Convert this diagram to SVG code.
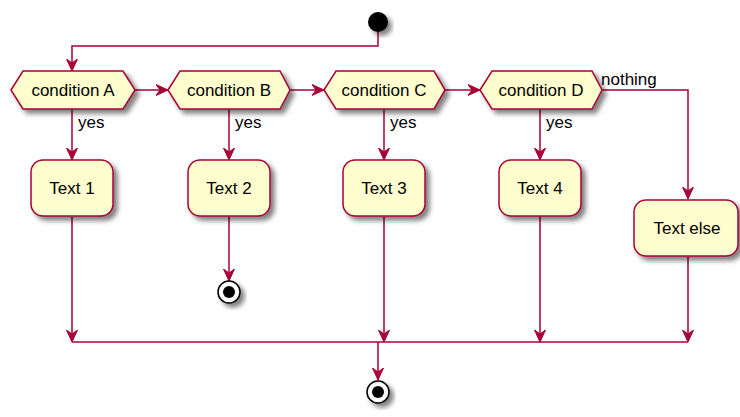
<svg xmlns="http://www.w3.org/2000/svg" width="740" height="417" viewBox="0 0 740 417">
<style>
.n{fill:#FEFECE;stroke:#A80036;stroke-width:1.5;filter:url(#sh)}
.t{font-family:"Liberation Sans",Arial,sans-serif;font-size:17px;fill:#000}
.c{text-anchor:middle}
.e{stroke:#A80036;stroke-width:1.5;fill:none}
</style>
<defs>
<filter id="sh" x="-20%" y="-20%" width="150%" height="150%">
<feGaussianBlur in="SourceAlpha" stdDeviation="2.5"/>
<feOffset dx="4" dy="4" result="b"/>
<feComponentTransfer><feFuncA type="linear" slope="0.5"/></feComponentTransfer>
<feMerge><feMergeNode/><feMergeNode in="SourceGraphic"/></feMerge>
</filter>
<marker id="ar" markerWidth="13" markerHeight="13" viewBox="0 0 13 13" refX="12" refY="6.5" orient="auto" markerUnits="userSpaceOnUse">
<polygon points="0,1 12,6.5 0,12 4,6.5" fill="#A80036" stroke="#A80036" stroke-width="1"/>
</marker>
</defs>
<g id="connectors">
<polyline class="e" points="378,32 378,46 72,46 72,71" marker-end="url(#ar)"/>
<line class="e" x1="135" y1="90" x2="168" y2="90" marker-end="url(#ar)"/>
<line class="e" x1="290" y1="90" x2="324" y2="90" marker-end="url(#ar)"/>
<line class="e" x1="445" y1="90" x2="480" y2="90" marker-end="url(#ar)"/>
<polyline class="e" points="602,90 688,90 688,199" marker-end="url(#ar)"/>
<line class="e" x1="72" y1="109" x2="72" y2="160" marker-end="url(#ar)"/>
<line class="e" x1="229" y1="109" x2="229" y2="160" marker-end="url(#ar)"/>
<line class="e" x1="384" y1="109" x2="384" y2="160" marker-end="url(#ar)"/>
<line class="e" x1="540" y1="109" x2="540" y2="160" marker-end="url(#ar)"/>
<line class="e" x1="229" y1="216" x2="229" y2="281" marker-end="url(#ar)"/>
<line class="e" x1="72" y1="216" x2="72" y2="342" marker-end="url(#ar)"/>
<line class="e" x1="384" y1="216" x2="384" y2="342" marker-end="url(#ar)"/>
<line class="e" x1="540" y1="216" x2="540" y2="342" marker-end="url(#ar)"/>
<line class="e" x1="688" y1="256" x2="688" y2="342" marker-end="url(#ar)"/>
<line class="e" x1="72" y1="342" x2="688" y2="342"/>
<line class="e" x1="378" y1="342" x2="378" y2="380" marker-end="url(#ar)"/>
<text class="t" x="78" y="128">yes</text>
<text class="t" x="235" y="128">yes</text>
<text class="t" x="390" y="128">yes</text>
<text class="t" x="546" y="128">yes</text>
<text class="t" x="601" y="85">nothing</text>
</g>
<g id="start"><circle cx="378" cy="22" r="10" fill="#000" filter="url(#sh)"/></g>
<g id="condA"><polygon class="n" points="11,90 23,71 123,71 135,90 123,109 23,109"/><text class="t c" x="73" y="96">condition A</text></g>
<g id="condB"><polygon class="n" points="168,90 180,71 280,71 290,90 280,109 180,109"/><text class="t c" x="229" y="96">condition B</text></g>
<g id="condC"><polygon class="n" points="324,90 336,71 434,71 445,90 434,109 336,109"/><text class="t c" x="384" y="96">condition C</text></g>
<g id="condD"><polygon class="n" points="480,90 492,71 592,71 602,90 592,109 492,109"/><text class="t c" x="541" y="96">condition D</text></g>
<g id="text1"><rect class="n" x="31" y="160" width="82" height="56" rx="12"/><text class="t c" x="72" y="194">Text 1</text></g>
<g id="text2"><rect class="n" x="188" y="160" width="82" height="56" rx="12"/><text class="t c" x="229" y="194">Text 2</text></g>
<g id="text3"><rect class="n" x="343" y="160" width="82" height="56" rx="12"/><text class="t c" x="384" y="194">Text 3</text></g>
<g id="text4"><rect class="n" x="499" y="160" width="82" height="56" rx="12"/><text class="t c" x="540" y="194">Text 4</text></g>
<g id="textElse"><rect class="n" x="634" y="200" width="104" height="56" rx="12"/><text class="t c" x="687" y="234">Text else</text></g>
<g id="end1"><circle cx="229" cy="292" r="11" fill="#fff" stroke="#000" stroke-width="1.5" filter="url(#sh)"/><circle cx="229" cy="292" r="6" fill="#000"/></g>
<g id="end2"><circle cx="378" cy="392" r="11" fill="#fff" stroke="#000" stroke-width="1.5" filter="url(#sh)"/><circle cx="378" cy="392" r="6" fill="#000"/></g>
</svg>
